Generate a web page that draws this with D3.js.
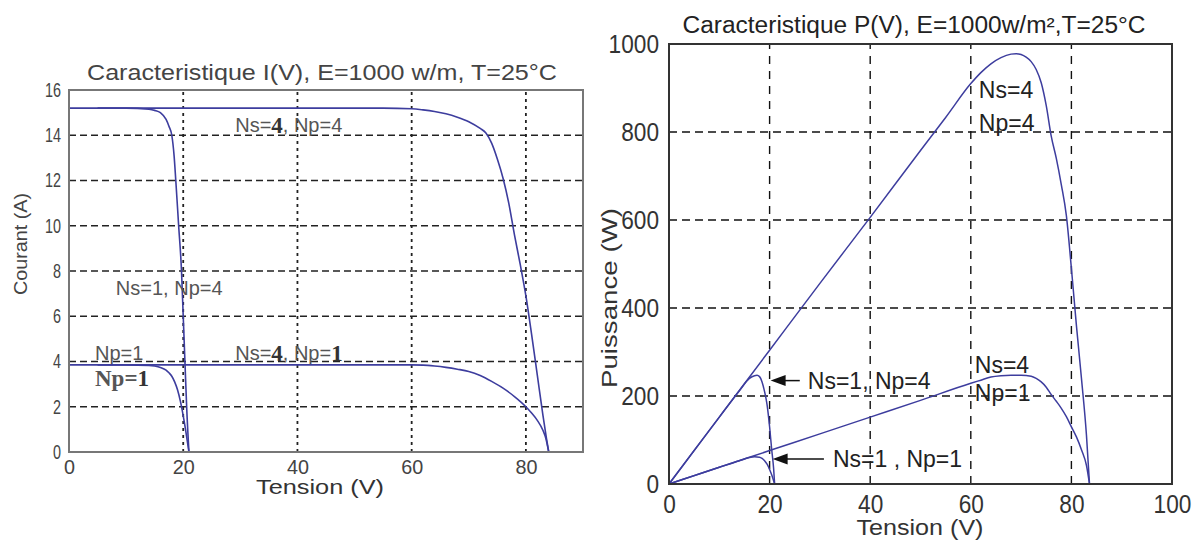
<!DOCTYPE html>
<html><head><meta charset="utf-8">
<script src="https://cdn.jsdelivr.net/npm/d3@7"></script>
<style>
html,body{margin:0;padding:0;background:#fff;}
svg{display:block;}
</style></head><body>
<svg id="c" width="1202" height="542"></svg>
<script>
// ---------- I(V) chart data ----------
const ivXTicks = [0, 20, 40, 60, 80];
const ivYTicks = [0, 2, 4, 6, 8, 10, 12, 14, 16];
const ivV_s4p4 = [0, 10, 20, 30, 40, 50, 55, 60, 62, 64, 66, 68, 70, 72, 73, 74, 75, 76, 77, 78, 79, 80, 81, 82, 83, 83.6, 84];
const ivI_s4p4 = [15.2, 15.2, 15.2, 15.2, 15.2, 15.2, 15.2, 15.17, 15.12, 15.05, 14.95, 14.8, 14.6, 14.3, 14.1, 13.65, 12.95, 12.1, 11.0, 9.6, 8.3, 6.9, 5.2, 3.4, 1.6, 0.6, 0];
const ivV_s1p4 = [5, 10, 14, 15, 16, 17, 17.5, 18, 18.4, 18.7, 19.2, 19.7, 20.0, 20.3, 20.6, 21.0];
const ivI_s1p4 = [15.2, 15.2, 15.15, 15.1, 15.0, 14.7, 14.4, 14.0, 13.1, 12.0, 10.0, 8.0, 6.0, 4.0, 2.0, 0];
const ivV_s1p1 = [5, 10, 14, 15, 16, 17, 17.5, 18, 18.5, 19, 19.5, 20, 20.4, 20.7, 21];
const ivI_s1p1 = [3.85, 3.85, 3.83, 3.8, 3.74, 3.62, 3.5, 3.35, 3.1, 2.75, 2.25, 1.6, 1.0, 0.5, 0];
const ivV_s4p1 = [0, 20, 40, 60, 62, 64, 66, 68, 70, 72, 74, 76, 78, 80, 81, 82, 83, 83.5, 84];
const ivI_s4p1 = [3.85, 3.85, 3.85, 3.85, 3.84, 3.8, 3.74, 3.66, 3.56, 3.38, 3.12, 2.82, 2.45, 2.0, 1.72, 1.4, 0.95, 0.6, 0];

// ---------- P(V) chart data ----------
const pvXTicks = [0, 20, 40, 60, 80, 100];
const pvYTicks = [0, 200, 400, 600, 800, 1000];
const pvV_s4p4 = [0, 10, 20, 30, 40, 50, 55, 60, 62, 64, 66, 68, 69, 70, 71, 72, 73, 74, 75, 76, 77, 78, 79, 80, 81, 82, 83, 83.6];
const pvP_s4p4 = [0, 152, 304, 456, 606, 758, 833, 910, 935, 955, 969, 977, 978, 976, 970, 960, 942, 912, 860, 790, 740, 680, 610, 490, 360, 240, 110, 0];
const pvV_s1p4 = [0, 5, 10, 14, 16, 17, 17.5, 18, 18.5, 19, 19.5, 20, 20.4, 20.8, 21];
const pvP_s1p4 = [0, 76, 152, 212, 240, 246, 247, 244, 232, 210, 180, 130, 80, 35, 0];
const pvV_s1p1 = [0, 5, 10, 14, 16, 17, 18, 18.5, 19, 19.5, 20, 20.5, 21];
const pvP_s1p1 = [0, 19, 38, 53, 60, 62, 61, 58, 53, 45, 33, 18, 0];
const pvV_s4p1 = [0, 10, 20, 30, 40, 50, 60, 62, 64, 66, 68, 70, 72, 73, 74, 75, 76, 77, 78, 79, 80, 81, 82, 83, 83.6];
const pvP_s4p1 = [0, 38, 76, 114, 152, 190, 229, 236, 243, 246, 247, 247, 245, 240, 232, 220, 203, 188, 172, 153, 130, 107, 78, 42, 0];

// ---------- texts ----------
const ivTitle = "Caracteristique I(V), E=1000 w/m, T=25°C";
const pvTitle = "Caracteristique P(V), E=1000w/m²,T=25°C";
const ivXLabel = "Tension (V)", ivYLabel = "Courant (A)";
const pvXLabel = "Tension (V)", pvYLabel = "Puissance (W)";

const zip = (a, b) => a.map((v, i) => [v, b[i]]);

const SANS = "'Liberation Sans', Arial, sans-serif";
const SERIF = "'Liberation Serif', 'Times New Roman', serif";
const CURVE = "#3d3d9e";

const svg = d3.select("#c");
svg.append("rect").attr("width", 1202).attr("height", 542).attr("fill", "#fff");

// ================= LEFT: I(V) =================
const xL = d3.scaleLinear().domain([0, 90]).range([69, 583]);
const yL = d3.scaleLinear().domain([0, 16]).range([452, 90]);
const gL = svg.append("g");

gL.selectAll("line.hg").data(ivYTicks.filter(d => d > 0 && d < 16)).join("line")
  .attr("x1", xL(0)).attr("x2", xL(90)).attr("y1", d => yL(d)).attr("y2", d => yL(d))
  .attr("stroke", "#222").attr("stroke-width", 1.3).attr("stroke-dasharray", "7,4");
gL.selectAll("line.vg").data(ivXTicks.filter(d => d > 0)).join("line")
  .attr("x1", d => xL(d)).attr("x2", d => xL(d)).attr("y1", yL(0)).attr("y2", yL(16))
  .attr("stroke", "#222").attr("stroke-width", 1.8).attr("stroke-dasharray", "3,4");

const lineL = d3.line().x(d => xL(d[0])).y(d => yL(d[1])).curve(d3.curveMonotoneX);
[[ivV_s4p4, ivI_s4p4], [ivV_s1p4, ivI_s1p4], [ivV_s1p1, ivI_s1p1], [ivV_s4p1, ivI_s4p1]].forEach(([v, i]) => {
  gL.append("path").attr("d", lineL(zip(v, i))).attr("fill", "none")
    .attr("stroke", CURVE).attr("stroke-width", 1.6);
});

gL.append("rect").attr("x", xL(0)).attr("y", yL(16)).attr("width", xL(90) - xL(0)).attr("height", yL(0) - yL(16))
  .attr("fill", "none").attr("stroke", "#777").attr("stroke-width", 2);

const axXL = gL.append("g").attr("transform", `translate(0,${yL(0)})`)
  .call(d3.axisBottom(xL).tickValues(ivXTicks).tickSize(0).tickPadding(8).tickFormat(d3.format("d")));
const axYL = gL.append("g").attr("transform", `translate(${xL(0)},0)`)
  .call(d3.axisLeft(yL).tickValues(ivYTicks).tickSize(0).tickPadding(8).tickFormat(d3.format("d")));
axXL.selectAll("text").attr("textLength", d => String(d).length * 11);
axYL.selectAll("text").attr("textLength", d => String(d).length * 8);
[axXL, axYL].forEach(a => {
  a.select(".domain").remove();
  a.selectAll("text").attr("font-family", SANS).attr("font-size", 20).attr("fill", "#444")
    .attr("lengthAdjust", "spacingAndGlyphs");
});

gL.append("text").attr("x", 322).attr("y", 80).attr("text-anchor", "middle")
  .attr("font-family", SANS).attr("font-size", 22).attr("fill", "#444")
  .attr("textLength", 470).attr("lengthAdjust", "spacingAndGlyphs").text(ivTitle);
gL.append("text").attr("x", 320).attr("y", 494).attr("text-anchor", "middle")
  .attr("font-family", SANS).attr("font-size", 20).attr("fill", "#333")
  .attr("textLength", 128).attr("lengthAdjust", "spacingAndGlyphs").text(ivXLabel);
gL.append("text").attr("transform", "translate(27,244) rotate(-90)").attr("text-anchor", "middle")
  .attr("font-family", SANS).attr("font-size", 18).attr("fill", "#444")
  .attr("textLength", 102).attr("lengthAdjust", "spacingAndGlyphs").text(ivYLabel);

const ivNotes = [
  { v: 29.1, i: 14.45, parts: [["Ns=", "s"], ["4", "b"], [", Np=4", "s"]] },
  { v: 8.2, i: 7.25, parts: [["Ns=1, Np=4", "s"]] },
  { v: 4.55, i: 4.38, parts: [["Np=1", "s"]] },
  { v: 29.1, i: 4.38, parts: [["Ns=", "s"], ["4", "b"], [", Np=", "s"], ["1", "b"]] },
  { v: 4.55, i: 3.25, parts: [["Np=", "bs"], ["1", "b"]] }
];
ivNotes.forEach(n => {
  const t = gL.append("text").attr("x", xL(n.v)).attr("y", yL(n.i)).attr("dominant-baseline", "central");
  n.parts.forEach(([s, st]) => {
    const ts = t.append("tspan").text(s);
    if (st === "s") ts.attr("font-family", SANS).attr("font-size", 20).attr("fill", "#555");
    else if (st === "bs") ts.attr("font-family", SERIF).attr("font-size", 23).attr("font-weight", "bold").attr("fill", "#555");
    else ts.attr("font-family", SERIF).attr("font-size", 23).attr("font-weight", "bold").attr("fill", "#333");
  });
});

// ================= RIGHT: P(V) =================
const xR = d3.scaleLinear().domain([0, 100]).range([669, 1172]);
const yR = d3.scaleLinear().domain([0, 1000]).range([484, 44]);
const gR = svg.append("g");

gR.selectAll("line.hg").data(pvYTicks.filter(d => d > 0 && d < 1000)).join("line")
  .attr("x1", xR(0)).attr("x2", xR(100)).attr("y1", d => yR(d)).attr("y2", d => yR(d))
  .attr("stroke", "#111").attr("stroke-width", 1.4).attr("stroke-dasharray", "8,5");
gR.selectAll("line.vg").data(pvXTicks.filter(d => d > 0 && d < 100)).join("line")
  .attr("x1", d => xR(d)).attr("x2", d => xR(d)).attr("y1", yR(0)).attr("y2", yR(1000))
  .attr("stroke", "#111").attr("stroke-width", 1.4).attr("stroke-dasharray", "8,7");

const lineR = d3.line().x(d => xR(d[0])).y(d => yR(d[1])).curve(d3.curveMonotoneX);
[[pvV_s4p4, pvP_s4p4], [pvV_s1p4, pvP_s1p4], [pvV_s1p1, pvP_s1p1], [pvV_s4p1, pvP_s4p1]].forEach(([v, p]) => {
  gR.append("path").attr("d", lineR(zip(v, p))).attr("fill", "none")
    .attr("stroke", CURVE).attr("stroke-width", 1.5);
});

gR.append("rect").attr("x", xR(0)).attr("y", yR(1000)).attr("width", xR(100) - xR(0)).attr("height", yR(0) - yR(1000))
  .attr("fill", "none").attr("stroke", "#333").attr("stroke-width", 2);

const axXR = gR.append("g").attr("transform", `translate(0,${yR(0)})`)
  .call(d3.axisBottom(xR).tickValues(pvXTicks).tickSize(0).tickPadding(11).tickFormat(d3.format("d")));
const axYR = gR.append("g").attr("transform", `translate(${xR(0)},0)`)
  .call(d3.axisLeft(yR).tickValues(pvYTicks).tickSize(0).tickPadding(10).tickFormat(d3.format("d")));
[axXR, axYR].forEach(a => {
  a.select(".domain").remove();
  a.selectAll("text").attr("font-family", SANS).attr("font-size", 25).attr("fill", "#333")
    .attr("textLength", d => String(d).length * 12.6).attr("lengthAdjust", "spacingAndGlyphs");
});

gR.append("text").attr("x", 914).attr("y", 33).attr("text-anchor", "middle")
  .attr("font-family", SANS).attr("font-size", 23).attr("fill", "#222")
  .attr("textLength", 463).attr("lengthAdjust", "spacingAndGlyphs").text(pvTitle);
gR.append("text").attr("x", 920).attr("y", 535).attr("text-anchor", "middle")
  .attr("font-family", SANS).attr("font-size", 22).attr("fill", "#333")
  .attr("textLength", 127).attr("lengthAdjust", "spacingAndGlyphs").text(pvXLabel);
gR.append("text").attr("transform", "translate(617,298) rotate(-90)").attr("text-anchor", "middle")
  .attr("font-family", SANS).attr("font-size", 22).attr("fill", "#333")
  .attr("textLength", 180).attr("lengthAdjust", "spacingAndGlyphs").text(pvYLabel);

const pvNotes = [
  { v: 27.6, p: 234, t: "Ns=1, Np=4" },
  { v: 32.6, p: 57, t: "Ns=1 , Np=1" },
  { v: 60.8, p: 270, t: "Ns=4" },
  { v: 60.8, p: 207, t: "Np=1" },
  { v: 61.6, p: 895, t: "Ns=4" },
  { v: 61.6, p: 820, t: "Np=4" }
];
pvNotes.forEach(n => {
  gR.append("text").attr("x", xR(n.v)).attr("y", yR(n.p)).attr("dominant-baseline", "central")
    .attr("font-family", SANS).attr("font-size", 23).attr("fill", "#222").text(n.t);
});

const pvArrows = [
  { tip: [20.2, 235], end: [26.0, 235] },
  { tip: [20.6, 57], end: [30.8, 57] }
];
pvArrows.forEach(a => {
  const tx = xR(a.tip[0]), ty = yR(a.tip[1]);
  gR.append("line").attr("x1", tx + 10).attr("y1", ty).attr("x2", xR(a.end[0])).attr("y2", yR(a.end[1]))
    .attr("stroke", "#111").attr("stroke-width", 1.5);
  gR.append("path").attr("d", `M${tx},${ty} L${tx + 15},${ty - 5.5} L${tx + 15},${ty + 5.5} Z`).attr("fill", "#111");
});
</script>
</body></html>
